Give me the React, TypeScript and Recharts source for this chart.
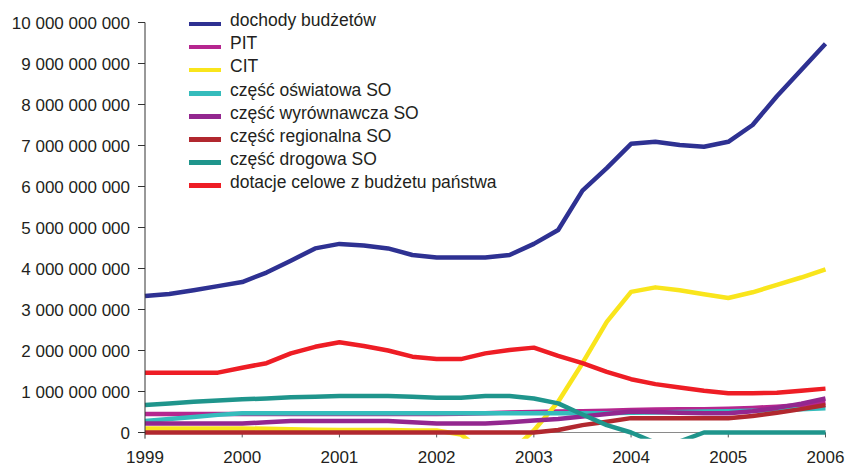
import { LineChart, Line, XAxis, YAxis, Legend, ReferenceLine } from 'recharts'

// quarterly points, values in billions of PLN
const quarters = [
  1999, 1999.25, 1999.5, 1999.75, 2000, 2000.25, 2000.5, 2000.75, 2001, 2001.25,
  2001.5, 2001.75, 2002, 2002.25, 2002.5, 2002.75, 2003, 2003.25, 2003.5, 2003.75,
  2004, 2004.25, 2004.5, 2004.75, 2005, 2005.25, 2005.5, 2005.75, 2006,
]
const yearTicks = [1999, 2000, 2001, 2002, 2003, 2004, 2005, 2006]
const valueTicks = [0, 1e9, 2e9, 3e9, 4e9, 5e9, 6e9, 7e9, 8e9, 9e9, 1e10]

const dochody = [
  3.33, 3.38, 3.47, 3.57, 3.67, 3.9, 4.19, 4.49, 4.6, 4.56, 4.49, 4.33, 4.27, 4.27, 4.27,
  4.33, 4.6, 4.94, 5.9, 6.45, 7.04, 7.09, 7.01, 6.97, 7.09, 7.5, 8.2, 8.84, 9.48,
]
const pit = [
  0.45, 0.45, 0.45, 0.45, 0.45, 0.45, 0.45, 0.45, 0.45, 0.45, 0.45, 0.45, 0.45, 0.46, 0.47,
  0.49, 0.5, 0.51, 0.52, 0.53, 0.55, 0.56, 0.57, 0.57, 0.58, 0.6, 0.63, 0.67, 0.72,
]
const cit = [
  0.1, 0.1, 0.1, 0.1, 0.1, 0.09, 0.08, 0.07, 0.06, 0.06, 0.06, 0.05, 0.05, -0.05, -0.5,
  -0.5, 0.05, 0.75, 1.69, 2.7, 3.43, 3.54, 3.47, 3.37, 3.28, 3.42, 3.6, 3.78, 3.98,
]
const oswiatowa = [
  0.28, 0.33, 0.38, 0.43, 0.47, 0.47, 0.47, 0.47, 0.47, 0.47, 0.47, 0.47, 0.47, 0.47, 0.47,
  0.47, 0.47, 0.47, 0.47, 0.47, 0.48, 0.49, 0.5, 0.51, 0.52, 0.53, 0.55, 0.57, 0.59,
]
const wyrownawcza = [
  0.22, 0.22, 0.22, 0.22, 0.22, 0.25, 0.28, 0.28, 0.28, 0.28, 0.28, 0.25, 0.22, 0.22, 0.22,
  0.25, 0.29, 0.33, 0.39, 0.45, 0.51, 0.5, 0.48, 0.47, 0.47, 0.52, 0.6, 0.7, 0.83,
]
const regionalna = [
  0, 0, 0, 0, 0, 0, 0, 0, 0, 0, 0, 0, 0, 0, 0,
  0, 0, 0.06, 0.18, 0.26, 0.35, 0.35, 0.35, 0.35, 0.35, 0.4, 0.48, 0.57, 0.67,
]
const drogowa = [
  0.67, 0.71, 0.75, 0.78, 0.81, 0.83, 0.86, 0.87, 0.89, 0.89, 0.89, 0.87, 0.85, 0.85, 0.89,
  0.89, 0.83, 0.71, 0.44, 0.18, 0, -0.25, -0.22, 0, 0, 0, 0, 0, 0,
]
const dotacje = [
  1.46, 1.46, 1.46, 1.46, 1.58, 1.69, 1.93, 2.09, 2.2, 2.11, 2.0, 1.85, 1.79, 1.79, 1.93,
  2.01, 2.07, 1.87, 1.69, 1.48, 1.3, 1.18, 1.1, 1.02, 0.96, 0.96, 0.97, 1.02, 1.07,
]

const series = [
  { key: 'dochody', label: 'dochody budżetów', color: '#2E3192', values: dochody },
  { key: 'pit', label: 'PIT', color: '#B5268F', values: pit },
  { key: 'cit', label: 'CIT', color: '#F9E51C', values: cit },
  { key: 'oswiatowa', label: 'część oświatowa SO', color: '#35BCBC', values: oswiatowa },
  { key: 'wyrownawcza', label: 'część wyrównawcza SO', color: '#93278F', values: wyrownawcza },
  { key: 'regionalna', label: 'część regionalna SO', color: '#B1282F', values: regionalna },
  { key: 'drogowa', label: 'część drogowa SO', color: '#1F958C', values: drogowa },
  { key: 'dotacje', label: 'dotacje celowe z budżetu państwa', color: '#EE1D25', values: dotacje },
]

const BILLION = 1e9
const FONT = '"Liberation Sans", Arial, sans-serif'
const TEXT = '#231F20'

const data = quarters.map((t, i) => {
  const row: Record<string, number> = { t }
  series.forEach((s) => {
    row[s.key] = s.values[i] * BILLION
  })
  return row
})

const formatValue = (v: number) => String(Math.round(v)).replace(/\B(?=(\d{3})+(?!\d))/g, ' ')

function LegendList() {
  return (
    <div style={{ fontFamily: FONT, fontSize: 17.5, color: TEXT }}>
      {series.map((s) => (
        <div key={s.key} style={{ display: 'flex', alignItems: 'center', height: 23.1, whiteSpace: 'nowrap' }}>
          <span
            style={{
              display: 'inline-block',
              width: 32,
              height: 4.5,
              background: s.color,
              marginRight: 9,
              position: 'relative',
              top: 3,
            }}
          />
          <span style={{ lineHeight: 1 }}>{s.label}</span>
        </div>
      ))}
    </div>
  )
}

export default function App() {
  return (
    <div style={{ position: 'absolute', left: 0, top: 0, width: 847, height: 466, background: '#fff' }}>
      <LineChart width={847} height={466} data={data} margin={{ top: 22.5, right: 21.5, left: 0, bottom: 0.35 }}>
        <XAxis
          dataKey="t"
          type="number"
          domain={[1999, 2006]}
          ticks={yearTicks}
          axisLine={false}
          tickLine={false}
          tickSize={6}
          tickMargin={6.5}
          height={27}
          tick={{ fontSize: 17, fill: TEXT, fontFamily: FONT }}
        />
        <YAxis
          domain={[-0.15 * BILLION, 10 * BILLION]}
          allowDataOverflow
          ticks={valueTicks}
          interval={0}
          width={145}
          tickSize={7}
          tickMargin={8}
          axisLine={{ stroke: '#333' }}
          tickLine={{ stroke: '#333' }}
          tickFormatter={formatValue}
          tick={{ fontSize: 17, fill: TEXT, fontFamily: FONT }}
        />
        <ReferenceLine y={0} stroke="#8a8a8a" strokeWidth={1} />
        {yearTicks.slice(1).map((y) => (
          <ReferenceLine
            key={y}
            segment={[
              { x: y, y: 0 },
              { x: y, y: -0.12 * BILLION },
            ]}
            stroke="#555"
          />
        ))}
        <Legend
          layout="vertical"
          align="center"
          verticalAlign="middle"
          content={() => <LegendList />}
          wrapperStyle={{ left: 189, top: 9.5, width: 'auto', height: 'auto' }}
        />
        {series.map((s) => (
          <Line
            key={s.key}
            type="linear"
            dataKey={s.key}
            name={s.label}
            stroke={s.color}
            strokeWidth={4.5}
            strokeLinejoin="round"
            dot={false}
            activeDot={false}
            isAnimationActive={false}
          />
        ))}
      </LineChart>
    </div>
  )
}
